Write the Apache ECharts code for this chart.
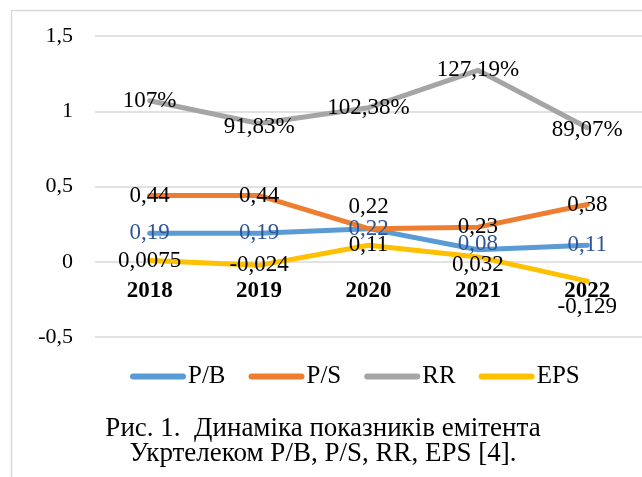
<!DOCTYPE html>
<html>
<head>
<meta charset="utf-8">
<script src="https://cdn.jsdelivr.net/npm/echarts@6/dist/echarts.min.js"></script>
<style>
  html, body { margin: 0; padding: 0; background: #fff; }
  #chart { width: 642px; height: 477px; }
</style>
</head>
<body>
<div id="chart"></div>
<script>
// дані з рисунку
const years = ['2018', '2019', '2020', '2021', '2022'];
const pb = [0.19, 0.19, 0.22, 0.08, 0.11];
const ps = [0.44, 0.44, 0.22, 0.23, 0.38];
const rr = [1.07, 0.9183, 1.0238, 1.2719, 0.8907];
const eps = [0.0075, -0.024, 0.11, 0.032, -0.129];
const yTicks = [-0.5, 0, 0.5, 1, 1.5];

// зсув підписів (по вертикалі, px) там, де вони не по центру точки
const shiftPB = [0, 0, 0, -6, 0];
const shiftPS = [0, 0, -22, 0, 0];
const shiftRR = [0, 3, 0, 0, 2];
const shiftEPS = [0, 0, 0, 8, 26];

const serif = '"Liberation Serif", "Times New Roman", serif';
const comma = v => String(v).replace('.', ',');
// іконка легенди — товста лінія з круглими кінцями
const capsule = 'path://M3,0 H53 A3,3 0 0 1 53,6 H3 A3,3 0 0 1 3,0 Z';

function pts(vals, shift) {
    return vals.map((v, i) => ({ value: v, label: { offset: [0, shift[i]] } }));
}

function line(name, vals, shift, color, fmt, labelColor) {
    return {
        name: name, type: 'line', data: pts(vals, shift),
        symbol: 'circle', symbolSize: 0.1, showSymbol: true,
        legendIcon: capsule,
        lineStyle: { width: 5, color: color, cap: 'round', join: 'round' },
        itemStyle: { color: color },
        label: {
            show: true, position: 'inside', fontFamily: serif, fontSize: 23,
            color: labelColor, formatter: p => fmt(p.value)
        },
        emphasis: { disabled: true }
    };
}

const chart = echarts.init(document.getElementById('chart'));
chart.setOption({
    animation: false,
    textStyle: { fontFamily: serif },
    title: {
        text: 'Рис. 1.  Динаміка показників емітента\nУкртелеком P/B, P/S, RR, EPS [4].',
        left: 323, top: 416, padding: 0, textAlign: 'center',
        textStyle: { fontFamily: serif, fontSize: 27, fontWeight: 'normal', color: '#000', lineHeight: 25 }
    },
    graphic: [{
        type: 'rect', silent: true,
        shape: { x: 11.5, y: 10.5, width: 700, height: 500 },
        style: { fill: 'none', stroke: '#d9d9d9', lineWidth: 1.5 }
    }],
    legend: {
        left: 130, top: 364, padding: 0, itemWidth: 56, itemHeight: 6, itemGap: 23,
        icon: capsule,
        textStyle: { fontFamily: serif, fontSize: 25, color: '#000', padding: [0, 0, 0, -3] },
        data: ['P/B', 'P/S', 'RR', 'EPS']
    },
    grid: { left: 95, right: -7, top: 36, bottom: 140 },
    xAxis: {
        type: 'category', data: years, boundaryGap: true, offset: -75.25,
        axisLine: { show: false, onZero: false },
        axisTick: { show: false },
        axisLabel: { margin: 18, fontFamily: serif, fontSize: 23, fontWeight: 'bold', color: '#000' }
    },
    yAxis: {
        type: 'value', min: yTicks[0], max: yTicks[yTicks.length - 1], interval: 0.5,
        axisLine: { show: false }, axisTick: { show: false },
        splitLine: { lineStyle: { color: '#d9d9d9', width: 1.5 } },
        axisLabel: { margin: 22, fontFamily: serif, fontSize: 22, color: '#000', formatter: v => comma(v) }
    },
    series: [
        line('P/B', pb, shiftPB, '#5b9bd5', v => v.toFixed(2).replace('.', ','), '#2f5597'),
        line('P/S', ps, shiftPS, '#ed7d31', v => v.toFixed(2).replace('.', ','), '#000'),
        line('RR', rr, shiftRR, '#a5a5a5', v => comma(Number((v * 100).toFixed(2))) + '%', '#000'),
        line('EPS', eps, shiftEPS, '#ffc000', v => comma(v), '#000')
    ]
});
</script>
</body>
</html>
